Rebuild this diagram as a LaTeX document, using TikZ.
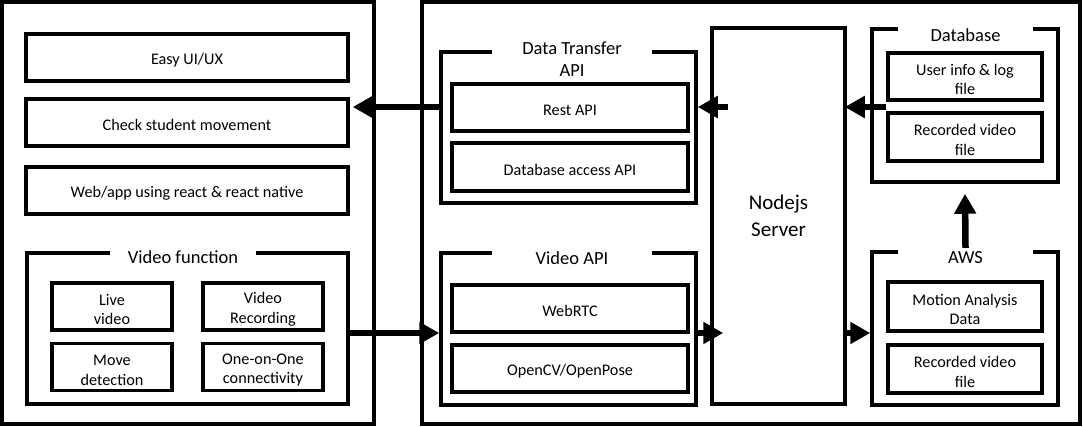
\documentclass[tikz,border=0pt]{standalone}
\usepackage{fontspec}
\setmainfont{Carlito}
\usepackage{tikz}
\usetikzlibrary{arrows.meta}
\usetikzlibrary{calc}
\usetikzlibrary{positioning}
\newcommand{\kastenschrift}{\fontsize{16.2}{19.5}\selectfont}
\newcommand{\titelschrift}{\fontsize{18.5}{22.5}\selectfont}
\newcommand{\serverschrift}{\fontsize{21}{27}\selectfont}
\newcommand{\hoch}{\rule{0pt}{17pt}}

\begin{document}
\begin{tikzpicture}[
	x=1pt, y=-1pt,
  > = {Triangle[length=20pt,width=21pt]},
  frame/.style = {draw,line width=3.5pt,inner sep=0pt},
  box/.style = {draw,line width=3.5pt,inner sep=0pt,align=center,font=\kastenschrift},
  title/.style = {fill=white,inner sep=0pt,minimum height=20pt,align=center,font=\titelschrift},
  flow/.style = {->,line width=6.5pt}
  ]
	\useasboundingbox (0,0) rectangle (1083,426);

	\coordinate (@oben) at (0,107);
	\coordinate (@unten) at (0,333);

	\node[frame,minimum width=372pt,minimum height=422pt] (client) at (188,213) {};
	\node[frame,minimum width=658pt,minimum height=422pt] (backend) at (751,213) {};

	\node[box,minimum width=322pt,minimum height=47pt] (easy) at (187,57.5) {\hoch Easy UI/UX};
	\node[box,minimum width=322pt,minimum height=47pt] (check) at (187,122.5) {\hoch Check student movement};
	\node[box,minimum width=322pt,minimum height=47pt] (web) at (187,190.5) {\hoch Web/app using react \& react native};

	\node[frame,minimum width=321pt,minimum height=151pt] (vf) at (187.5,328.5) {};
	\node[title,minimum width=146pt] (vftitel) at (183,257) {Video function};
	\node[box,minimum width=120pt,minimum height=47pt] (live) at (112,306.5) {\hoch Live\\video};
	\node[box,minimum width=120pt,minimum height=47pt] (rec) at (263,306.5) {\hoch Video\\Recording};
	\node[box,minimum width=120pt,minimum height=47pt] (move) at (112,367) {\hoch Move\\detection};
	\node[box,minimum width=120pt,minimum height=47pt] (one) at (263,367) {\hoch One-on-One\\connectivity};

	\node[frame,minimum width=255pt,minimum height=151pt] (dta) at (568.5,127.5) {};
	\node[title,minimum width=160pt] (dtatitel) at (572,59) {Data Transfer\\API};
	\node[box,minimum width=236pt,minimum height=47pt] (rest) at (570,107.5) {\hoch Rest API};
	\node[box,minimum width=236pt,minimum height=48pt] (dbapi) at (570,167) {\hoch Database access API};

	\node[frame,minimum width=255pt,minimum height=152pt] (vapi) at (568.5,329) {};
	\node[title,minimum width=160pt] (vapititel) at (572,258) {Video API};
	\node[box,minimum width=236pt,minimum height=47pt] (webrtc) at (570,308.5) {\hoch WebRTC};
	\node[box,minimum width=236pt,minimum height=47pt] (opencv) at (570,368.5) {\hoch OpenCV/OpenPose};

	\node[box,minimum width=133pt,minimum height=376pt,font=\serverschrift] (nodejs) at (778.5,216) {Nodejs\\Server};

	\node[frame,minimum width=186pt,minimum height=153pt] (db) at (965,105.5) {};
	\node[title,minimum width=135pt] (dbtitel) at (965.5,35) {Database};
	\node[box,minimum width=154pt,minimum height=47pt] (userinfo) at (965,76.5) {\hoch User info \& log\\file};
	\node[box,minimum width=154pt,minimum height=48pt] (recdb) at (965,137) {\hoch Recorded video\\file};

	\node[frame,minimum width=186pt,minimum height=153pt] (aws) at (965,328.5) {};
	\node[title,minimum width=135pt] (awstitel) at (965.5,258) {AWS};
	\node[box,minimum width=154pt,minimum height=49pt] (motion) at (965,306.5) {\hoch Motion Analysis\\Data};
	\node[box,minimum width=154pt,minimum height=48pt] (recaws) at (965,369) {\hoch Recorded video\\file};

	\draw[flow] (dta.west |- @oben) -- ([xshift=3pt]check.east |- @oben);
	\draw[flow] ([xshift=18pt]nodejs.west |- @oben) -- (dta.east |- @oben);
	\draw[flow] (userinfo.west |- @oben) -- ([xshift=-2pt]nodejs.east |- @oben);
	\draw[flow] (vf.east |- @unten) -- (vapi.west |- @unten);
	\draw[flow] (vapi.east |- @unten) -- ([xshift=13pt]nodejs.west |- @unten);
	\draw[flow] (nodejs.east |- @unten) -- (aws.west |- @unten);
	\draw[flow] (awstitel.north) -- ([yshift=-10pt]db.south);

\end{tikzpicture}
\end{document}
